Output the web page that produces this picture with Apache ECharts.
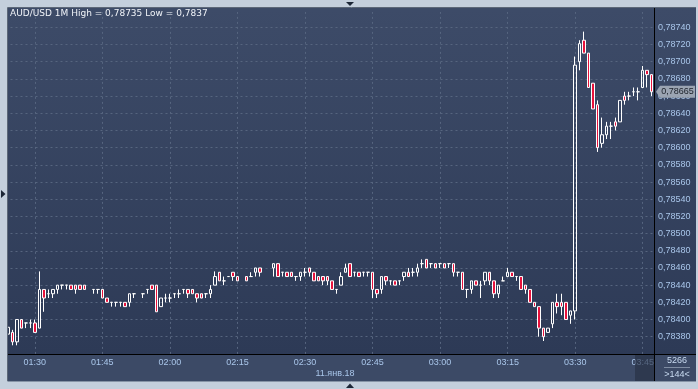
<!DOCTYPE html>
<html><head><meta charset="utf-8">
<script src="https://cdn.jsdelivr.net/npm/echarts/dist/echarts.min.js"></script>
<style>html,body{margin:0;padding:0;background:#c4cfdc;overflow:hidden}#c{width:698px;height:389px}</style>
</head><body><div id="c"></div>
<script>
// ---- data ----
const startMinute = 84;           // 01:24, first bar
const barCount = 144;
const opens = [0.78383,0.78385,0.78374,0.78400,0.78396,0.78396,0.78396,0.78390,0.78435,0.78430,
0.78430,0.78435,0.78440,0.78440,0.78440,0.78440,0.78440,0.78440,null,0.78435,
0.78435,0.78435,0.78425,0.78420,0.78420,0.78420,0.78420,0.78420,0.78430,null,
0.78430,0.78435,0.78440,0.78440,0.78415,0.78425,0.78425,0.78430,0.78430,0.78435,
0.78435,0.78435,0.78430,0.78430,0.78430,0.78430,0.78440,0.78455,0.78445,0.78450,
0.78455,0.78450,null,0.78450,0.78450,0.78455,0.78460,null,null,0.78460,
0.78465,0.78455,0.78455,0.78455,0.78450,0.78450,0.78455,0.78460,0.78455,0.78450,
0.78450,0.78450,0.78445,0.78435,0.78440,0.78455,0.78465,0.78455,0.78455,0.78455,
0.78455,0.78455,0.78435,0.78435,0.78450,0.78445,0.78445,0.78445,0.78450,0.78455,
0.78455,0.78455,0.78465,0.78470,0.78465,0.78465,0.78465,0.78465,0.78465,0.78465,
0.78455,0.78455,0.78435,0.78435,0.78445,0.78440,0.78445,0.78455,0.78445,0.78430,
0.78445,0.78450,0.78455,0.78450,0.78450,0.78440,0.78435,0.78420,0.78415,0.78390,
0.78385,0.78395,0.78420,0.78420,0.78420,0.78405,0.78410,0.78700,0.78725,0.78710,
0.78675,0.78650,0.78605,0.78615,0.78625,0.78630,0.78630,0.78660,0.78660,0.78665,
0.78665,0.78670,0.78690,0.78685];
const closes = [0.78391,0.78374,0.78400,0.78390,0.78396,0.78396,0.78385,0.78435,0.78425,0.78430,
0.78435,0.78440,0.78440,0.78440,0.78435,0.78435,0.78435,0.78435,null,0.78435,
0.78435,0.78425,0.78420,0.78420,0.78420,0.78420,0.78415,0.78430,0.78430,null,
0.78430,0.78435,0.78435,0.78409,0.78425,0.78425,0.78425,0.78430,0.78430,0.78435,
0.78430,0.78430,0.78425,0.78425,0.78430,0.78435,0.78450,0.78445,0.78445,0.78450,
0.78450,0.78445,null,0.78445,0.78450,0.78460,0.78455,null,null,0.78465,
0.78450,0.78455,0.78450,0.78450,0.78450,0.78455,0.78455,0.78455,0.78445,0.78445,
0.78445,0.78445,0.78435,0.78435,0.78450,0.78460,0.78450,0.78455,0.78450,0.78455,
0.78455,0.78435,0.78430,0.78450,0.78445,0.78445,0.78440,0.78445,0.78455,0.78450,
0.78455,0.78460,0.78465,0.78460,0.78465,0.78460,0.78465,0.78460,0.78465,0.78455,
0.78455,0.78435,0.78435,0.78445,0.78440,0.78440,0.78455,0.78445,0.78430,0.78440,
0.78445,0.78455,0.78450,0.78450,0.78435,0.78435,0.78420,0.78415,0.78390,0.78380,
0.78390,0.78420,0.78415,0.78415,0.78400,0.78410,0.78696,0.78721,0.78710,0.78670,
0.78645,0.78600,0.78615,0.78625,0.78625,0.78625,0.78655,0.78655,0.78660,0.78665,
0.78665,0.78690,0.78685,0.78665];
const lows = [0.78380,0.78370,0.78370,0.78390,0.78390,0.78390,0.78385,0.78390,0.78409,0.78425,
0.78425,0.78430,0.78435,0.78435,0.78435,0.78430,0.78435,0.78435,null,0.78430,
0.78430,0.78425,0.78420,0.78415,0.78415,0.78415,0.78415,0.78415,0.78425,null,
0.78425,0.78430,0.78435,0.78409,0.78415,0.78420,0.78420,0.78425,0.78425,0.78430,
0.78425,0.78430,0.78420,0.78425,0.78425,0.78425,0.78440,0.78445,0.78440,0.78450,
0.78445,0.78445,null,0.78445,0.78450,0.78450,0.78450,null,null,0.78450,
0.78450,0.78450,0.78450,0.78450,0.78445,0.78445,0.78450,0.78450,0.78445,0.78445,
0.78440,0.78440,0.78435,0.78430,0.78440,0.78455,0.78450,0.78450,0.78450,0.78450,
0.78450,0.78425,0.78425,0.78430,0.78440,0.78440,0.78440,0.78440,0.78445,0.78450,
0.78450,0.78450,0.78460,0.78460,0.78460,0.78460,0.78460,0.78460,0.78460,0.78450,
0.78450,0.78435,0.78425,0.78430,0.78440,0.78425,0.78440,0.78440,0.78425,0.78425,
0.78445,0.78450,0.78450,0.78445,0.78435,0.78430,0.78420,0.78415,0.78380,0.78375,
0.78385,0.78390,0.78407,0.78405,0.78400,0.78395,0.78400,0.78690,0.78710,0.78670,
0.78645,0.78595,0.78600,0.78610,0.78610,0.78620,0.78630,0.78650,0.78655,0.78660,
0.78655,0.78670,0.78670,0.78660];
const highs = [0.78392,0.78388,0.78400,0.78400,0.78396,0.78400,0.78400,0.78456,0.78435,0.78435,
0.78435,0.78440,0.78440,0.78440,0.78440,0.78440,0.78440,0.78440,null,0.78435,
0.78435,0.78435,0.78425,0.78420,0.78420,0.78420,0.78420,0.78430,0.78430,null,
0.78430,0.78435,0.78440,0.78440,0.78425,0.78430,0.78430,0.78430,0.78435,0.78435,
0.78435,0.78435,0.78430,0.78430,0.78430,0.78440,0.78456,0.78455,0.78450,0.78450,
0.78455,0.78450,null,0.78450,0.78455,0.78460,0.78460,null,null,0.78465,
0.78465,0.78455,0.78455,0.78455,0.78450,0.78455,0.78460,0.78460,0.78455,0.78450,
0.78450,0.78450,0.78445,0.78435,0.78455,0.78465,0.78465,0.78455,0.78455,0.78455,
0.78455,0.78455,0.78435,0.78450,0.78450,0.78445,0.78445,0.78445,0.78455,0.78460,
0.78460,0.78465,0.78470,0.78470,0.78465,0.78465,0.78465,0.78465,0.78465,0.78465,
0.78455,0.78455,0.78435,0.78445,0.78445,0.78445,0.78455,0.78455,0.78445,0.78440,
0.78450,0.78460,0.78455,0.78450,0.78450,0.78440,0.78435,0.78420,0.78415,0.78390,
0.78390,0.78420,0.78430,0.78430,0.78420,0.78410,0.78706,0.78725,0.78735,0.78710,
0.78675,0.78655,0.78635,0.78630,0.78630,0.78635,0.78655,0.78665,0.78665,0.78670,
0.78670,0.78695,0.78690,0.78685];
const xTickLabels = ['01:30','01:45','02:00','02:15','02:30','02:45','03:00','03:15','03:30','03:45'];
const yMin = 0.7836, yMax = 0.787625, yStep = 0.0002, yTopLabel = 0.7874;
const lastPrice = 0.78665;
const titleText = 'AUD/USD 1M High = 0,78735 Low = 0,7837';
const dateText = '11.янв.18';
const volumeText = '5266';
const barsText = '>144<';

// ---- build ----
const pad = n => (n < 10 ? '0' : '') + n;
const categories = [];
for (let i = 0; i < barCount; i++) {
  const m = startMinute + i;
  categories.push(pad(Math.floor(m / 60)) + ':' + pad(m % 60));
}
const candles = categories.map((c, i) =>
  opens[i] == null ? '-' : [opens[i], closes[i], lows[i], highs[i]]);

const FONT = '"Liberation Sans", Arial, sans-serif';
const TFONT = '"DejaVu Sans", Verdana, sans-serif';
const LBL = '#a9c6ea';
const GRIDC = '#56657f';
const FRAME = '#c4cfdc';
const TOPC = '#3d4b68';

const chart = echarts.init(document.getElementById('c'), null, {renderer: 'canvas'});
chart.setOption({
  backgroundColor: FRAME,
  animation: false,
  grid: {left: 5.5, right: 44, top: 8, bottom: 35.1},
  xAxis: {
    type: 'category', data: categories, boundaryGap: true,
    axisLine: {show: false}, axisTick: {show: false}, splitLine: {show: false},
    axisLabel: {interval: (i, v) => xTickLabels.indexOf(v) >= 0, color: LBL,
      fontSize: 9, fontFamily: FONT, margin: 4}
  },
  yAxis: {
    type: 'value', position: 'right', min: yMin, max: yMax, interval: yStep,
    axisLine: {show: false}, axisTick: {show: false},
    axisLabel: {color: LBL, fontSize: 9, fontFamily: FONT, margin: 4,
      formatter: v => {
        const k = Math.round((v - yMin) / yStep);
        if (k === 0 || v > yTopLabel + 1e-8 || Math.abs(yMin + k * yStep - v) > 1e-8) return '';
        return v.toFixed(5).replace('.', ',');
      }},
    splitLine: {show: true, lineStyle: {color: GRIDC, type: [2, 3], width: 1}}
  },
  series: [{
    type: 'candlestick', data: candles, barWidth: 3, z: 3,
    itemStyle: {color: 'rgba(0,0,0,0)', color0: '#e8123c', borderColor: '#ffffff',
      borderColor0: '#ffffff', borderColorDoji: '#ffffff', borderWidth: 1},
    emphasis: {disabled: true},
    markLine: {
      silent: true, z: 1, symbol: ['none', 'none'], label: {show: false},
      lineStyle: {color: GRIDC, type: [2, 3], width: 1},
      emphasis: {disabled: true},
      data: xTickLabels.map(t => ({xAxis: t}))
    }
  }]
});

const py = chart.convertToPixel({yAxisIndex: 0}, lastPrice);
const els = [
  {type: 'rect', z: -1, shape: {x: 8, y: 8, width: 688, height: 346},
    style: {fill: new echarts.graphic.LinearGradient(0, 0, 0, 1,
      [{offset: 0, color: TOPC}, {offset: 1, color: '#2d3a56'}])}},
  {type: 'rect', z: -1, shape: {x: 8, y: 354, width: 688, height: 27}, style: {fill: '#3c4a66'}},
  // hide the unlabelled line just under the top edge
  {type: 'rect', z: 2, shape: {x: 8, y: 8, width: 646, height: 4}, style: {fill: TOPC}},
  // frame covers
  {type: 'rect', z: 90, shape: {x: 0, y: 0, width: 7.5, height: 389}, style: {fill: FRAME}},
  {type: 'rect', z: 90, shape: {x: 0, y: 0, width: 698, height: 7.5}, style: {fill: FRAME}},
  {type: 'rect', z: 90, shape: {x: 0, y: 381, width: 698, height: 8}, style: {fill: FRAME}},
  {type: 'rect', z: 90, shape: {x: 696, y: 0, width: 2, height: 389}, style: {fill: FRAME}},
  {type: 'line', z: 91, shape: {x1: 7.5, y1: 7.5, x2: 696, y2: 7.5}, style: {stroke: '#5d6878', lineWidth: 1}},
  {type: 'line', z: 91, shape: {x1: 7.5, y1: 7.5, x2: 7.5, y2: 381}, style: {stroke: '#5d6878', lineWidth: 1}},
  {type: 'line', z: 91, shape: {x1: 7.5, y1: 381.5, x2: 696, y2: 381.5}, style: {stroke: '#8794a6', lineWidth: 1}},
  // axis lines
  {type: 'line', z: 60, shape: {x1: 8, y1: 354.5, x2: 696, y2: 354.5}, style: {stroke: '#000', lineWidth: 1}},
  {type: 'line', z: 60, shape: {x1: 654.5, y1: 8, x2: 654.5, y2: 381}, style: {stroke: '#000', lineWidth: 1}},
  // dim box over last time label
  {type: 'rect', z: 55, shape: {x: 635, y: 355, width: 19, height: 26}, style: {fill: 'rgba(38,48,68,0.65)'}},
  // arrows
  {type: 'polygon', z: 95, shape: {points: [[346, 2], [354, 2], [350, 6]]}, style: {fill: '#1c2636'}},
  {type: 'polygon', z: 95, shape: {points: [[346, 388], [354, 388], [350, 383.5]]}, style: {fill: '#1c2636'}},
  {type: 'polygon', z: 95, shape: {points: [[1, 190], [1, 198], [5.5, 194]]}, style: {fill: '#1c2636'}},
  // texts
  {type: 'text', z: 70, x: 10, y: 9, style: {text: titleText, font: '9px ' + TFONT, fill: '#f0f3f8',
    align: 'left', verticalAlign: 'top', textAlign: 'left', textVerticalAlign: 'top'}},
  {type: 'text', z: 70, x: 335, y: 374, style: {text: dateText, font: '9px ' + FONT, fill: LBL,
    align: 'center', verticalAlign: 'middle', textAlign: 'center', textVerticalAlign: 'middle'}},
  {type: 'text', z: 70, x: 677, y: 361, style: {text: volumeText, font: '9px ' + FONT, fill: '#c9dbf1',
    align: 'center', verticalAlign: 'middle', textAlign: 'center', textVerticalAlign: 'middle'}},
  {type: 'line', z: 70, shape: {x1: 664, y1: 367.5, x2: 690, y2: 367.5}, style: {stroke: '#7f8da3', lineWidth: 1}},
  {type: 'text', z: 70, x: 677, y: 374.5, style: {text: barsText, font: '9px ' + FONT, fill: '#c9dbf1',
    align: 'center', verticalAlign: 'middle', textAlign: 'center', textVerticalAlign: 'middle'}},
  // last price marker
  {type: 'polygon', z: 80, shape: {points: [[656, py], [660, py - 6], [695, py - 6], [695, py + 6], [660, py + 6]]},
    style: {fill: '#9ba4b2'}},
  {type: 'text', z: 81, x: 677.5, y: py, style: {text: lastPrice.toFixed(5).replace('.', ','),
    font: '9px ' + FONT, fill: '#1b2029', align: 'center', verticalAlign: 'middle',
    textAlign: 'center', textVerticalAlign: 'middle'}}
];
chart.setOption({graphic: {elements: els}});
</script></body></html>
